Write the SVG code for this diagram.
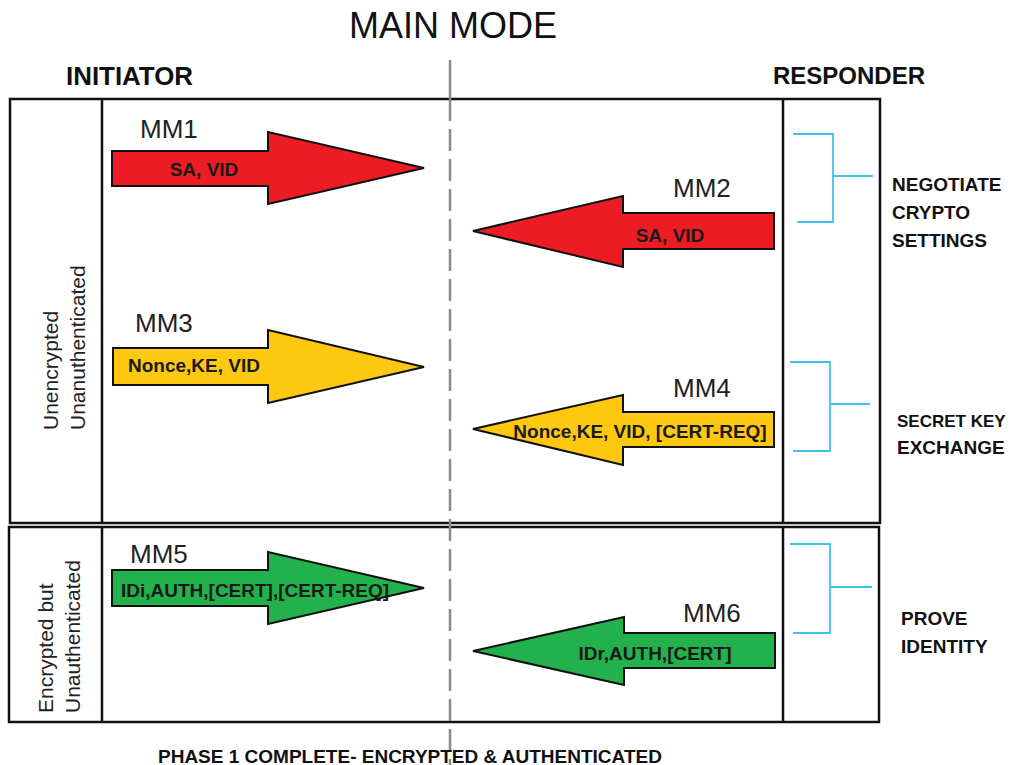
<svg xmlns="http://www.w3.org/2000/svg" width="1014" height="765" viewBox="0 0 1014 765">
<style>
.frame{fill:none;stroke:#111;stroke-width:2.5}
.div{stroke:#111;stroke-width:2.5}
.arrow{stroke:#111;stroke-width:2;stroke-linejoin:miter}
.red{fill:#ed1c24}
.yel{fill:#fdc80f}
.grn{fill:#22b14c}
.lbl{font-family:"Liberation Sans",Arial,sans-serif;font-weight:bold;font-size:19px;fill:#1a1a1a;text-anchor:middle}
.mm{font-family:"Liberation Sans",Arial,sans-serif;font-size:26px;fill:#222}
.hdr{font-family:"Liberation Sans",Arial,sans-serif;font-weight:bold;fill:#111}
.side{font-family:"Liberation Sans",Arial,sans-serif;font-size:21px;fill:#222}
.rt{font-family:"Liberation Sans",Arial,sans-serif;font-weight:bold;font-size:19px;fill:#111}
.brk{fill:none;stroke:#3fc3ec;stroke-width:1.8}
.center{stroke:#8a8a8a;stroke-width:2.5}
</style>
<rect width="1014" height="765" fill="#fff"/>
<g id="titles">
<text x="453" y="38" font-family="'Liberation Sans',Arial,sans-serif" font-size="36" fill="#111" text-anchor="middle">MAIN MODE</text>
<text class="hdr" x="66" y="85" font-size="25" textLength="127" lengthAdjust="spacingAndGlyphs">INITIATOR</text>
<text class="hdr" x="773" y="84" font-size="24">RESPONDER</text>
</g>
<g id="frames">
<rect class="frame" x="10" y="99" width="870" height="424"/>
<line class="div" x1="102" y1="99" x2="102" y2="523"/>
<line class="div" x1="783" y1="99" x2="783" y2="523"/>
<rect class="frame" x="9" y="527" width="870" height="195"/>
<line class="div" x1="102" y1="527" x2="102" y2="722"/>
<line class="div" x1="783" y1="527" x2="783" y2="722"/>
</g>
<g id="side-labels">
<text class="side" transform="translate(58,430) rotate(-90)">Unencrypted</text>
<text class="side" transform="translate(85,430) rotate(-90)">Unanuthenticated</text>
<text class="side" transform="translate(53,713) rotate(-90)">Encrypted but</text>
<text class="side" transform="translate(80,713) rotate(-90)">Unauthenticated</text>
</g>
<g id="connectors">
<line class="center" x1="450" y1="60" x2="450" y2="99"/>
<line class="center" x1="450" y1="99" x2="450" y2="765" stroke-dasharray="22 8"/>
<path class="brk" d="M793,134 H833 V222 H797 M833,176 H873"/>
<path class="brk" d="M790,362 H830 V451 H793 M830,404 H870"/>
<path class="brk" d="M790,544 H830 V633 H793 M830,587 H872"/>
</g>
<g id="mm1">
<polygon class="arrow red" points="112,151 268,151 268,132 424,168 268,204 268,186 112,186"/>
<text class="mm" x="140" y="138">MM1</text>
<text class="lbl" x="204" y="176">SA, VID</text>
</g>
<g id="mm2">
<polygon class="arrow red" points="774,213 623,213 623,196 473,231 623,267 623,249 774,249"/>
<text class="mm" x="673" y="197">MM2</text>
<text class="lbl" x="670" y="242">SA, VID</text>
</g>
<g id="mm3">
<polygon class="arrow yel" points="113,348 268,348 268,330 424,367 268,403 268,385 113,385"/>
<text class="mm" x="135" y="332">MM3</text>
<text class="lbl" x="194" y="372">Nonce,KE, VID</text>
</g>
<g id="mm4">
<polygon class="arrow yel" points="774,412 623,412 623,395 473,429 623,465 623,447 774,447"/>
<text class="mm" x="673" y="397">MM4</text>
<text class="lbl" x="640" y="438">Nonce,KE, VID, [CERT-REQ]</text>
</g>
<g id="mm5">
<polygon class="arrow grn" points="112,570 268,570 268,552 424,588 268,624 268,606 112,606"/>
<text class="mm" x="130" y="563">MM5</text>
<text class="lbl" x="255" y="597">IDi,AUTH,[CERT],[CERT-REQ]</text>
</g>
<g id="mm6">
<polygon class="arrow grn" points="775,633 624,633 624,617 473,651 624,685 624,668 775,668"/>
<text class="mm" x="683" y="622">MM6</text>
<text class="lbl" x="655" y="660">IDr,AUTH,[CERT]</text>
</g>
<g id="phase-labels">
<text class="rt" x="892" y="191">NEGOTIATE</text>
<text class="rt" x="892" y="219">CRYPTO</text>
<text class="rt" x="892" y="247">SETTINGS</text>
<text class="rt" x="897" y="427" style="font-size:17px">SECRET KEY</text>
<text class="rt" x="897" y="454">EXCHANGE</text>
<text class="rt" x="901" y="625">PROVE</text>
<text class="rt" x="901" y="653">IDENTITY</text>
</g>
<text class="rt" x="158" y="763">PHASE 1 COMPLETE- ENCRYPTED &amp; AUTHENTICATED</text>
</svg>
